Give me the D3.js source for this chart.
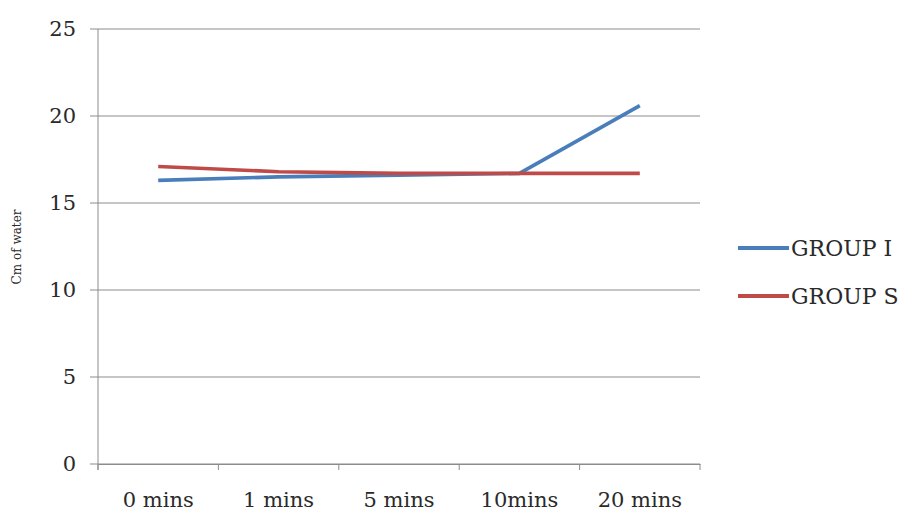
<!DOCTYPE html>
<html>
<head>
<meta charset="utf-8">
<script src="https://d3js.org/d3.v7.min.js"></script>
<style>
  body { margin: 0; background: #fff; }
  text { font-family: "DejaVu Serif", serif; fill: #2a2a2a; }
</style>
</head>
<body>
<svg width="903" height="514"></svg>
<script>
const categories = ["0 mins", "1 mins", "5 mins", "10mins", "20 mins"];
const groupI = [16.3, 16.5, 16.6, 16.7, 20.6];
const groupS = [17.1, 16.8, 16.7, 16.7, 16.7];
const seriesNames = ["GROUP I", "GROUP S"];
const seriesColors = ["#4a7ebb", "#be4b48"];
const yTicks = [0, 5, 10, 15, 20, 25];

const svg = d3.select("svg");
const plotLeft = 98, plotRight = 700, plotTop = 29, plotBottom = 464;

const x = d3.scaleBand().domain(categories).range([plotLeft, plotRight]);
const y = d3.scaleLinear().domain([0, 25]).range([plotBottom, plotTop]);

// gridlines
svg.append("g")
  .selectAll("line")
  .data(yTicks)
  .enter().append("line")
  .attr("x1", plotLeft - 8).attr("x2", plotRight)
  .attr("y1", d => y(d)).attr("y2", d => y(d))
  .attr("stroke", "#8c8c8c").attr("stroke-width", 1);

// y axis line
svg.append("line")
  .attr("x1", plotLeft).attr("x2", plotLeft)
  .attr("y1", y(25)).attr("y2", plotBottom + 6)
  .attr("stroke", "#8c8c8c");

// y labels
svg.append("g")
  .selectAll("text")
  .data(yTicks)
  .enter().append("text")
  .attr("x", 76).attr("y", d => y(d) + 7)
  .attr("text-anchor", "end")
  .style("font-size", "21px")
  .text(d => d);

// x axis
const xAxis = svg.append("g")
  .attr("transform", `translate(0,${plotBottom})`)
  .call(d3.axisBottom(x).tickSize(0).tickPadding(28));
xAxis.select(".domain").attr("stroke", "#8c8c8c");
xAxis.selectAll("text")
  .style("font-family", "DejaVu Serif, serif")
  .style("font-size", "21px")
  .attr("fill", "#2a2a2a");

// x tick marks at band edges
const edges = categories.map(c => x(c)).concat([plotRight]);
svg.append("g")
  .selectAll("line")
  .data(edges)
  .enter().append("line")
  .attr("x1", d => d).attr("x2", d => d)
  .attr("y1", plotBottom).attr("y2", plotBottom + 6)
  .attr("stroke", "#8c8c8c");

// y title
svg.append("text")
  .attr("transform", "translate(21,247) rotate(-90)")
  .attr("text-anchor", "middle")
  .style("font-size", "12px")
  .text("Cm of water");

// lines
const line = d3.line()
  .x((d, i) => x(categories[i]) + x.bandwidth() / 2)
  .y(d => y(d));

[groupI, groupS].forEach((s, k) => {
  svg.append("path")
    .datum(s)
    .attr("fill", "none")
    .attr("stroke", seriesColors[k])
    .attr("stroke-width", 3.6)
    .attr("stroke-linejoin", "round")
    .attr("d", line);
});

// legend
const legend = svg.append("g");
seriesNames.forEach((n, k) => {
  const ly = 248 + k * 48;
  legend.append("line")
    .attr("x1", 738).attr("x2", 789)
    .attr("y1", ly).attr("y2", ly)
    .attr("stroke", seriesColors[k]).attr("stroke-width", 3.8);
  legend.append("text")
    .attr("x", 791).attr("y", ly + 8)
    .style("font-size", "22px")
    .text(n);
});
</script>
</body>
</html>
